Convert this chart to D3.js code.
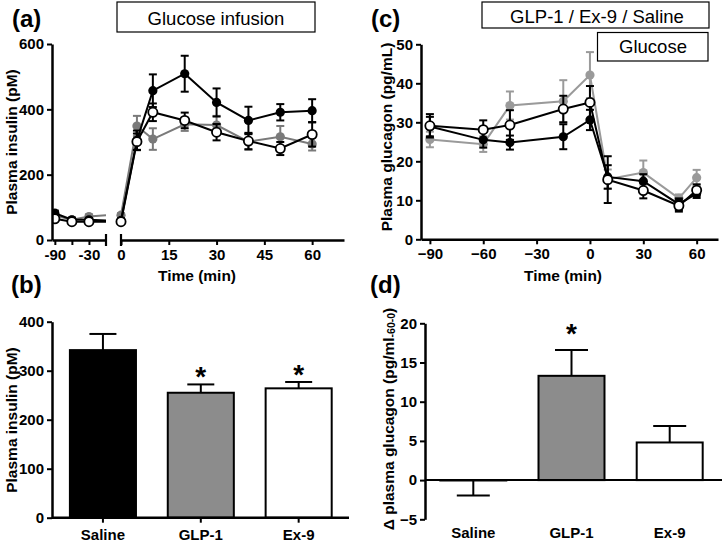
<!DOCTYPE html>
<html><head><meta charset="utf-8">
<script src="https://cdn.jsdelivr.net/npm/d3@7"></script>
<style>body{margin:0;background:#fff} svg{display:block} text{font-family:"Liberation Sans",Arial,sans-serif}</style>
</head><body><svg id="chart" width="724" height="542"></svg>
<script>
// ---------- DATA ----------
// Panel (a): plasma insulin (pM) over time
const timesA = [-90, -60, -30, 0, 5, 10, 20, 30, 40, 50, 60];
const salineA = [82, 62, 62, 60, 305, 457, 509, 421, 366, 391, 396];
const salineASem = [8, 6, 5, 5, 30, 50, 55, 43, 42, 25, 35];
const glpA = [75, 62, 72, 76, 349, 309, 354, 352, 301, 316, 294];
const glpASem = [8, 6, 6, 6, 31, 33, 20, 28, 25, 33, 20];
const ex9A = [65, 56, 56, 56, 301, 391, 366, 330, 303, 280, 323];
const ex9ASem = [6, 5, 5, 5, 25, 27, 24, 25, 25, 20, 37];
const xTicksALeft = [-90, -60, -30];
const xTickLabelsALeft = ["-90", "", "-30"];
const xTicksARight = [0, 15, 30, 45, 60];
const yTicksA = [0, 200, 400, 600];

// Panel (c): plasma glucagon (pg/mL) over time
const timesC = [-90, -60, -45, -15, 0, 10, 30, 50, 60];
const salineC = [28.9, 25.5, 24.8, 26.3, 30.6, 16.0, 14.9, 9.0, 11.8];
const salineCSem = [2.5, 2.0, 1.8, 3.2, 2.6, 3.0, 1.8, 1.5, 1.2];
const glpC = [25.6, 24.4, 34.3, 35.4, 42.1, 15.4, 17.1, 10.5, 15.8];
const glpCSem = [2.0, 2.0, 3.6, 5.4, 5.9, 2.5, 3.1, 1.0, 2.0];
const ex9C = [29.1, 28.1, 29.3, 33.4, 35.1, 15.3, 12.5, 8.6, 12.6];
const ex9CSem = [3.0, 2.4, 3.8, 3.4, 4.2, 6.0, 2.0, 1.5, 1.5];
const xTicksC = [-90, -60, -30, 0, 30, 60];
const yTicksC = [0, 10, 20, 30, 40, 50];

// Panel (b): mean plasma insulin (pM)
const barCats = ["Saline", "GLP-1", "Ex-9"];
const insulinBar = [342, 255, 264];
const insulinBarSem = [33, 17, 13];
const insulinSig = [false, true, true];
const yTicksB = [0, 100, 200, 300, 400];

// Panel (d): delta plasma glucagon
const glucagonBar = [-0.05, 13.3, 4.8];
const glucagonBarSem = [1.9, 3.3, 2.1];
const glucagonSig = [false, true, false];
const yTicksD = [-5, 0, 5, 10, 15, 20];

// ---------- DRAWING ----------
const svg = d3.select("#chart");
const FONT = '"Liberation Sans",Arial,sans-serif';
const GRAY_A = "#7a7a7a", GRAY_C = "#9a9a9a", GRAY_BAR = "#8c8c8c";

function styleAxis(g) {
  g.select(".domain").attr("stroke", "#000").attr("stroke-width", 2.5);
  g.selectAll(".tick line").attr("stroke", "#000").attr("stroke-width", 2);
  g.selectAll(".tick text").attr("font-family", FONT).attr("font-size", 15)
    .attr("font-weight", "bold").attr("fill", "#000");
}
function label(x, y, txt, opts = {}) {
  const t = svg.append("text").attr("x", x).attr("y", y).text(txt)
    .attr("font-family", FONT).attr("font-size", opts.size || 15.5)
    .attr("font-weight", opts.weight || "bold").attr("fill", "#000")
    .attr("text-anchor", opts.anchor || "middle");
  if (opts.rotate) t.attr("transform", `rotate(-90,${x},${y})`).attr("dominant-baseline", "central");
  return t;
}
function box(x, y, w, h, txt, tx, ty) {
  svg.append("rect").attr("x", x).attr("y", y).attr("width", w).attr("height", h)
    .attr("fill", "#fff").attr("stroke", "#000").attr("stroke-width", 1.2);
  label(tx, ty, txt, { size: 18.5, weight: "normal" });
}
function drawSeries(g, xs, ys, times, vals, sems, color, fill, stroke) {
  const pts = times.map((t, i) => ({ t, v: vals[i], s: sems[i] }));
  g.append("path").datum(pts).attr("fill", "none").attr("stroke", color).attr("stroke-width", 2)
    .attr("d", d3.line().x(d => xs(d.t)).y(d => ys(d.v)));
  const eb = g.selectAll(null).data(pts).enter().append("g").attr("class", "eb").attr("stroke", color).attr("stroke-width", 2);
  eb.append("line").attr("x1", d => xs(d.t)).attr("x2", d => xs(d.t))
    .attr("y1", d => ys(d.v - d.s)).attr("y2", d => ys(d.v + d.s));
  eb.append("line").attr("x1", d => xs(d.t) - 4).attr("x2", d => xs(d.t) + 4)
    .attr("y1", d => ys(d.v + d.s)).attr("y2", d => ys(d.v + d.s));
  eb.append("line").attr("x1", d => xs(d.t) - 4).attr("x2", d => xs(d.t) + 4)
    .attr("y1", d => ys(d.v - d.s)).attr("y2", d => ys(d.v - d.s));
  g.selectAll(null).data(pts).enter().append("circle")
    .attr("cx", d => xs(d.t)).attr("cy", d => ys(d.v)).attr("r", 4.6)
    .attr("fill", fill).attr("stroke", stroke).attr("stroke-width", stroke === "none" ? 0 : 1.8);
}

// ===== Panel (a) =====
const yA = d3.scaleLinear().domain([0, 600]).range([240, 44]);
const xAL = d3.scaleLinear().domain([-95, 0]).range([52, 106]);
const xAR = d3.scaleLinear().domain([0, 70]).range([121, 344]);
svg.append("defs").append("clipPath").attr("id", "clipAL")
  .append("rect").attr("x", 52).attr("y", 0).attr("width", 54).attr("height", 260);

const seriesA = [
  { vals: glpA, sems: glpASem, color: GRAY_A, fill: GRAY_A, stroke: "none" },
  { vals: salineA, sems: salineASem, color: "#000", fill: "#000", stroke: "none" },
  { vals: ex9A, sems: ex9ASem, color: "#000", fill: "#fff", stroke: "#000" }
];
const gAL = svg.append("g").attr("clip-path", "url(#clipAL)");
const gAR = svg.append("g");
seriesA.forEach(s => {
  const li = timesA.map((t, i) => i).filter(i => timesA[i] <= 0);
  const riIdx = timesA.map((t, i) => i).filter(i => timesA[i] >= 0);
  const gl = gAL.append("g"), gr = gAR.append("g");
  drawSeries(gl, xAL, yA, li.map(i => timesA[i]), li.map(i => s.vals[i]), li.map(i => s.sems[i]), s.color, s.fill, s.stroke);
  gl.selectAll("circle").filter(d => d.t === 0).remove();
  gl.selectAll("g.eb").filter(d => d.t === 0).remove();
  drawSeries(gr, xAR, yA, riIdx.map(i => timesA[i]), riIdx.map(i => s.vals[i]), riIdx.map(i => s.sems[i]), s.color, s.fill, s.stroke);
});

styleAxis(svg.append("g").attr("transform", "translate(52,0)")
  .call(d3.axisLeft(yA).tickValues(yTicksA).tickSize(5).tickSizeOuter(0).tickPadding(3)));
styleAxis(svg.append("g").attr("transform", "translate(0,240)")
  .call(d3.axisBottom(xAL).tickValues(xTicksALeft).tickFormat((d, i) => xTickLabelsALeft[i]).tickSize(5).tickSizeOuter(0).tickPadding(4)));
styleAxis(svg.append("g").attr("transform", "translate(0,240)")
  .call(d3.axisBottom(xAR).tickValues(xTicksARight).tickSize(5).tickSizeOuter(0).tickPadding(4)));
[xAL(0), xAR(0)].forEach(x => {
  svg.append("line").attr("x1", x).attr("x2", x).attr("y1", 234).attr("y2", 246)
    .attr("stroke", "#000").attr("stroke-width", 2.2);
});
label(11, 142, "Plasma insulin (pM)", { rotate: true });
label(197, 281, "Time (min)");
box(117, 2, 198, 30, "Glucose infusion", 216, 24.5);
label(12, 26.7, "(a)", { size: 24, anchor: "start" });

// ===== Panel (c) =====
const yC = d3.scaleLinear().domain([0, 50]).range([239.3, 44.3]);
const xC = d3.scaleLinear().domain([-95, 72]).range([421, 718]);
const seriesC = [
  { vals: glpC, sems: glpCSem, color: GRAY_C, fill: GRAY_C, stroke: "none" },
  { vals: salineC, sems: salineCSem, color: "#000", fill: "#000", stroke: "none" },
  { vals: ex9C, sems: ex9CSem, color: "#000", fill: "#fff", stroke: "#000" }
];
const gC = svg.append("g");
seriesC.forEach(s => drawSeries(gC.append("g"), xC, yC, timesC, s.vals, s.sems, s.color, s.fill, s.stroke));
styleAxis(svg.append("g").attr("transform", "translate(421,0)")
  .call(d3.axisLeft(yC).tickValues(yTicksC).tickSize(5).tickSizeOuter(0).tickPadding(3)));
styleAxis(svg.append("g").attr("transform", "translate(0,239.3)")
  .call(d3.axisBottom(xC).tickValues(xTicksC).tickSize(5).tickSizeOuter(0).tickPadding(4)));
label(386, 137, "Plasma glucagon (pg/mL)", { rotate: true });
label(563, 281, "Time (min)");
box(482, 2, 227, 26, "GLP-1 / Ex-9 / Saline", 597, 22.5);
box(597.5, 32.5, 110.5, 28.5, "Glucose", 653, 53);
label(371, 26.7, "(c)", { size: 24, anchor: "start" });

// ===== Panel (b) =====
const yB = d3.scaleLinear().domain([0, 400]).range([517.7, 321.7]);
const xB = d3.scaleBand().domain(barCats).range([54, 347.6]).paddingInner(0.325).paddingOuter(0.1625);
const barFills = ["#000", GRAY_BAR, "#fff"];
const gB = svg.append("g");
barCats.forEach((c, i) => {
  const cx = xB(c) + xB.bandwidth() / 2;
  const top = yB(insulinBar[i] + insulinBarSem[i]);
  gB.append("line").attr("x1", cx).attr("x2", cx).attr("y1", yB(insulinBar[i])).attr("y2", top)
    .attr("stroke", "#000").attr("stroke-width", 2);
  gB.append("line").attr("x1", cx - 13.5).attr("x2", cx + 13.5).attr("y1", top).attr("y2", top)
    .attr("stroke", "#000").attr("stroke-width", 2);
  gB.append("rect").attr("x", xB(c)).attr("width", xB.bandwidth())
    .attr("y", yB(insulinBar[i])).attr("height", yB(0) - yB(insulinBar[i]))
    .attr("fill", barFills[i]).attr("stroke", "#000").attr("stroke-width", 2);
  if (insulinSig[i]) label(cx, top + 2, "*", { size: 28 });
});
styleAxis(svg.append("g").attr("transform", "translate(52,0)")
  .call(d3.axisLeft(yB).tickValues(yTicksB).tickSize(5).tickSizeOuter(0).tickPadding(3)));
const axBX = svg.append("g").attr("transform", "translate(0,517.7)")
  .call(d3.axisBottom(xB).tickSize(5).tickSizeOuter(0).tickPadding(7));
styleAxis(axBX);
axBX.select(".domain").attr("d", "M52,0H349");
label(11, 420, "Plasma insulin (pM)", { rotate: true });
label(11, 293, "(b)", { size: 24, anchor: "start" });

// ===== Panel (d) =====
const yD = d3.scaleLinear().domain([-5, 20]).range([519.3, 323.3]);
const xD = d3.scaleBand().domain(barCats).range([424.2, 718.8]).paddingInner(0.328).paddingOuter(0.164);
const gD = svg.append("g");
barCats.forEach((c, i) => {
  const cx = xD(c) + xD.bandwidth() / 2;
  const v = glucagonBar[i], s = glucagonBarSem[i] * Math.sign(v);
  gD.append("line").attr("x1", cx).attr("x2", cx).attr("y1", yD(v)).attr("y2", yD(v + s))
    .attr("stroke", "#000").attr("stroke-width", 2);
  gD.append("line").attr("x1", cx - 16.5).attr("x2", cx + 16.5).attr("y1", yD(v + s)).attr("y2", yD(v + s))
    .attr("stroke", "#000").attr("stroke-width", 2);
  gD.append("rect").attr("x", xD(c)).attr("width", xD.bandwidth())
    .attr("y", Math.min(yD(v), yD(0))).attr("height", Math.abs(yD(0) - yD(v)))
    .attr("fill", barFills[i] === "#000" ? "none" : barFills[i]).attr("stroke", "#000").attr("stroke-width", 2);
  if (glucagonSig[i]) label(cx, yD(v + s) - 7, "*", { size: 28 });
});
styleAxis(svg.append("g").attr("transform", "translate(425,0)")
  .call(d3.axisLeft(yD).tickValues(yTicksD).tickSize(5).tickSizeOuter(0).tickPadding(3)));
svg.append("line").attr("x1", 425).attr("x2", 722).attr("y1", yD(0)).attr("y2", yD(0))
  .attr("stroke", "#000").attr("stroke-width", 2);
barCats.forEach(c => label(xD(c) + xD.bandwidth() / 2, 538, c, { size: 15 }));
const tD = label(388, 419, "Δ plasma glucagon (pg/ml", { rotate: true, size: 15.5 });
tD.append("tspan").attr("font-size", 10.5).attr("baseline-shift", "-25%").text("-60-0");
tD.append("tspan").text(")");
label(370, 293, "(d)", { size: 24, anchor: "start" });
</script></body></html>
